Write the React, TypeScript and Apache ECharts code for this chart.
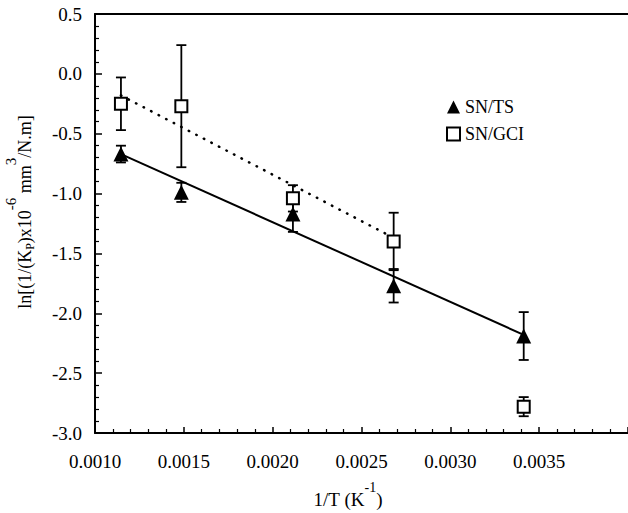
import React, { useEffect, useRef } from "react";
import * as echarts from "echarts";

// 1/T (K^-1) for the five test temperatures
const invT = [0.001146, 0.001486, 0.002114, 0.002681, 0.003413];
// SN/TS (filled triangles)
const tsValues = [-0.67, -0.99, -1.17, -1.77, -2.19];
const tsErrors = [0.07, 0.08, 0.15, 0.14, 0.2];
// SN/GCI (open squares)
const gciValues = [-0.25, -0.27, -1.04, -1.4, -2.78];
const gciErrors = [0.22, 0.51, 0.11, 0.24, 0.08];
// Fitted lines
const tsFitX = [0.001146, 0.003413];
const tsFitY = [-0.67, -2.18];
const gciFitX = [0.001146, 0.002681];
const gciFitY = [-0.18, -1.37];
// Axis settings
const xMin = 0.001;
const xMax = 0.004;
const xStep = 0.0005;
const yMin = -3.0;
const yMax = 0.5;
const yStep = 0.5;
const seriesNames = ["SN/TS", "SN/GCI"];

const FONT = "'Liberation Serif', 'Times New Roman', serif";

function errorItem(params: any, api: any) {
  const x = api.value(0);
  const lo = api.coord([x, api.value(1)]);
  const hi = api.coord([x, api.value(2)]);
  const hw = 5;
  const style = { stroke: "#000", lineWidth: 1.8, fill: "none" };
  return {
    type: "group",
    children: [
      { type: "line", shape: { x1: lo[0], y1: lo[1], x2: hi[0], y2: hi[1] }, style },
      { type: "line", shape: { x1: lo[0] - hw, y1: lo[1], x2: lo[0] + hw, y2: lo[1] }, style },
      { type: "line", shape: { x1: hi[0] - hw, y1: hi[1], x2: hi[0] + hw, y2: hi[1] }, style },
    ],
  };
}

export default function App() {
  const ref = useRef<HTMLDivElement>(null);

  useEffect(() => {
    if (!ref.current) return;
    const chart = echarts.init(ref.current, undefined, { renderer: "svg" });

    const tsPts = invT.map((x, i) => [x, tsValues[i]]);
    const gciPts = invT.map((x, i) => [x, gciValues[i]]);
    const tsErr = invT.map((x, i) => [x, tsValues[i] - tsErrors[i], tsValues[i] + tsErrors[i]]);
    const gciErr = invT.map((x, i) => [x, gciValues[i] - gciErrors[i], gciValues[i] + gciErrors[i]]);
    const tsFit = tsFitX.map((x, i) => [x, tsFitY[i]]);
    const gciFit = gciFitX.map((x, i) => [x, gciFitY[i]]);

    const axisLine = { show: true, onZero: false, lineStyle: { color: "#000", width: 2 } };

    chart.setOption({
      animation: false,
      backgroundColor: "#fff",
      grid: {
        left: 95,
        right: -2,
        top: 14,
        bottom: 80,
        show: false,
      },
      legend: {
        data: [
          { name: seriesNames[0], icon: "triangle" },
          { name: seriesNames[1], icon: "rect" },
        ],
        orient: "vertical",
        left: 441,
        top: 93,
        itemWidth: 13,
        itemHeight: 13,
        itemGap: 9,
        selectedMode: false,
        textStyle: { fontFamily: FONT, fontSize: 18, color: "#000" },
      },
      xAxis: [
        {
          type: "value",
          min: xMin,
          max: xMax,
          interval: xStep,
          axisLine,
          splitLine: { show: false },
          axisTick: { show: true, inside: true, length: 6, lineStyle: { color: "#000", width: 1.5 } },
          minorTick: { show: true, splitNumber: 5, length: 4, lineStyle: { color: "#000", width: 1.2 } },
          minorSplitLine: { show: false },
          axisLabel: {
            fontFamily: FONT,
            fontSize: 19,
            color: "#000",
            margin: 19,
            showMaxLabel: false,
            formatter: (v: number) => v.toFixed(4),
          },
        },
        {
          type: "value",
          position: "top",
          min: xMin,
          max: xMax,
          interval: xStep,
          axisLine,
          splitLine: { show: false },
          axisTick: { show: false },
          axisLabel: { show: false },
        },
      ],
      yAxis: {
        type: "value",
        min: yMin,
        max: yMax,
        interval: yStep,
        axisLine,
        splitLine: { show: false },
        axisTick: { show: true, inside: true, length: 7, lineStyle: { color: "#000", width: 1.5 } },
        minorTick: { show: true, splitNumber: 5, length: 4, lineStyle: { color: "#000", width: 1.2 } },
        minorSplitLine: { show: false },
        axisLabel: {
          fontFamily: FONT,
          fontSize: 19,
          color: "#000",
          margin: 13,
          formatter: (v: number) => v.toFixed(1),
        },
      },
      graphic: [
        {
          type: "text",
          x: 25,
          y: 212,
          rotation: Math.PI / 2,
          style: {
            text: "{a|ln[(1/(K}{sub|P}{a|)x10}{sup|-6}{a| mm}{sup|3}{a|/N.m]}",
            align: "center",
            verticalAlign: "middle",
            rich: {
              a: { fontFamily: FONT, fontSize: 18, fill: "#000", lineHeight: 44 },
              sup: { fontFamily: FONT, fontSize: 15, fill: "#000", verticalAlign: "top" },
              sub: {
                fontFamily: FONT,
                fontSize: 12,
                fill: "#000",
                verticalAlign: "bottom",
                padding: [0, 0, 11, 0],
              },
            },
          },
        },
        {
          type: "text",
          x: 348,
          y: 499,
          style: {
            text: "{a|1/T (K}{sup|-1}{a|)}",
            align: "center",
            verticalAlign: "middle",
            rich: {
              a: { fontFamily: FONT, fontSize: 19, fill: "#000", lineHeight: 38 },
              sup: { fontFamily: FONT, fontSize: 14, fill: "#000", verticalAlign: "top" },
            },
          },
        },
      ],
      series: [
        {
          type: "custom",
          name: "tsErr",
          renderItem: errorItem,
          data: tsErr,
          encode: { x: 0, y: [1, 2] },
          z: 1,
          silent: true,
        },
        {
          type: "custom",
          name: "gciErr",
          renderItem: errorItem,
          data: gciErr,
          encode: { x: 0, y: [1, 2] },
          z: 1,
          silent: true,
        },
        {
          type: "line",
          name: "tsFit",
          data: tsFit,
          symbol: "none",
          lineStyle: { color: "#000", width: 2 },
          z: 2,
          silent: true,
        },
        {
          type: "line",
          name: "gciFit",
          data: gciFit,
          symbol: "none",
          lineStyle: { color: "#000", width: 2.5, type: [0.5, 8], cap: "round" },
          z: 2,
          silent: true,
        },
        {
          type: "scatter",
          name: seriesNames[0],
          data: tsPts,
          symbol: "triangle",
          symbolSize: 15,
          itemStyle: { color: "#000", opacity: 1 },
          z: 5,
        },
        {
          type: "scatter",
          name: seriesNames[1],
          data: gciPts,
          symbol: "rect",
          symbolSize: 12,
          itemStyle: { color: "#fff", borderColor: "#000", borderWidth: 2, opacity: 1 },
          z: 5,
        },
      ],
    });

    return () => chart.dispose();
  }, []);

  return (
    <div
      ref={ref}
      style={{ position: "absolute", left: 0, top: 0, width: 628, height: 513, background: "#fff" }}
    />
  );
}
